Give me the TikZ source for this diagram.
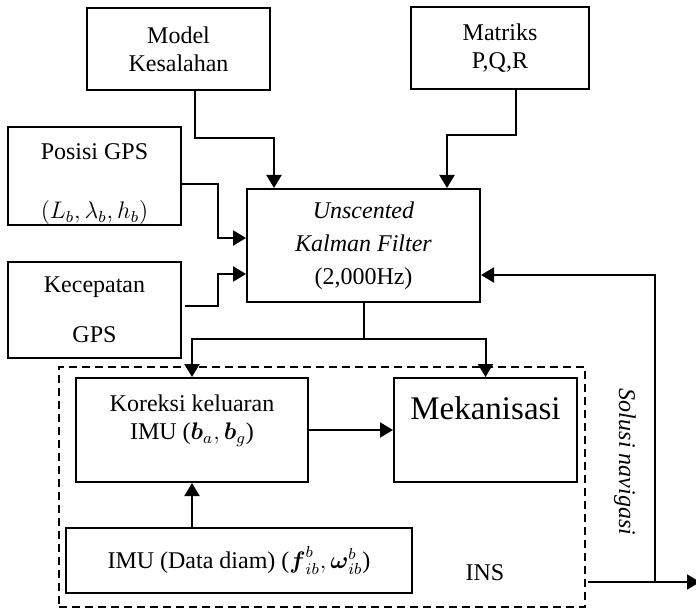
\documentclass[tikz,border=0pt]{standalone}
\usepackage{amsmath,amssymb}
\usepackage{fontspec}
\setmainfont{Liberation Serif}
\usetikzlibrary{arrows.meta,calc}

\begin{document}
\begin{tikzpicture}[
    x=0.5pt,y=-0.5pt,
    font=\fontsize{12}{14}\selectfont,
    blok/.style={rectangle,draw,line width=1pt,inner sep=0pt,align=center},
    teks/.style={inner sep=0pt,align=center},
    insbox/.style={rectangle,draw,line width=0.8pt,dash pattern=on 4pt off 2.5pt,inner sep=0pt},
    arr/.style={-{Triangle[length=6.5pt,width=7.5pt]},line width=1pt}
  ]
  \useasboundingbox (0,0) rectangle (696,609);

  % blok masukan
  \node[blok,minimum width=91.5pt,minimum height=41pt] (model) at (178.5,49) {Model\\Kesalahan};
  \node[blok,minimum width=89pt,minimum height=41pt] (matriks) at (500,48) {Matriks\\P,Q,R};
  \node[blok,minimum width=86.5pt,minimum height=49pt] (posisi) at (94.5,176) {};
  \node[teks] (posisiT) at (94.5,152) {Posisi GPS};
  \node[teks] (posisiF) at (94.5,213) {$(L_b,\lambda_b,h_b)$};
  \node[blok,minimum width=86.5pt,minimum height=48pt] (kecepatan) at (94.5,310) {Kecepatan\\[11pt]GPS};
  \node[blok,minimum width=116.5pt,minimum height=56.5pt] (ukf) at (363.5,245.5)
    {\textit{Unscented}\\[2.5pt]\textit{Kalman Filter}\\[2.5pt](2,000Hz)};

  % INS
  \node[insbox,minimum width=263pt,minimum height=120pt] (ins) at (322,487) {};
  \node[blok,minimum width=116pt,minimum height=52pt] (koreksi) at (192,430) {};
  \node[teks] (koreksiT) at (192,421) {Koreksi keluaran\\IMU ($\boldsymbol{b}_a,\boldsymbol{b}_g$)};
  \node[blok,minimum width=91.5pt,minimum height=52pt] (mekanisasi) at (485.5,430) {};
  \node[teks] (mekanisasiT) at (485.5,408) {\fontsize{16.5}{20}\selectfont Mekanisasi};
  \node[blok,minimum width=173pt,minimum height=32.5pt] (imu) at (239,560.5)
    {IMU (Data diam) ($\boldsymbol{f}_{ib}^{b},\boldsymbol{\omega}_{ib}^{b}$)};
  \node[teks] (insT) at (485,573) {INS};
  \node[teks,rotate=-90] (solusi) at (625,462) {\textit{Solusi navigasi}};

  \coordinate (cabang) at ($(ukf.south)+(0,36)$);
  \coordinate (keluar) at (655,582);
  \coordinate (ujung) at (700,582);

  % panah
  \draw[arr] ([xshift=8.25pt]model.south) -- ++(0,47) -| ([xshift=14pt]ukf.north west);
  \draw[arr] ([xshift=8pt]matriks.south) -- ++(0,45) -| ([xshift=-17pt]ukf.north east);
  \draw[arr] ([yshift=-4pt]posisi.east) -- ++(36,0) |- ([yshift=3.75pt]ukf.west);
  \draw[arr] ([xshift=1.5pt,yshift=2pt]kecepatan.east) -- ++(33,0) |- ([yshift=-14.25pt]ukf.west);
  \draw[line width=1pt] (ukf.south) -- (cabang);
  \draw[arr] (cabang) -| (koreksi.north);
  \draw[arr] (cabang) -| (mekanisasi.north);
  \draw[arr] (koreksi) -- (mekanisasi);
  \draw[arr] (imu.north -| koreksi.south) -- (koreksi.south);
  \draw[arr] ([xshift=1pt,yshift=-47.5pt]ins.east) -- (ujung);
  \draw[arr] (keluar) |- ([yshift=-14.75pt]ukf.east);
\end{tikzpicture}
\end{document}
